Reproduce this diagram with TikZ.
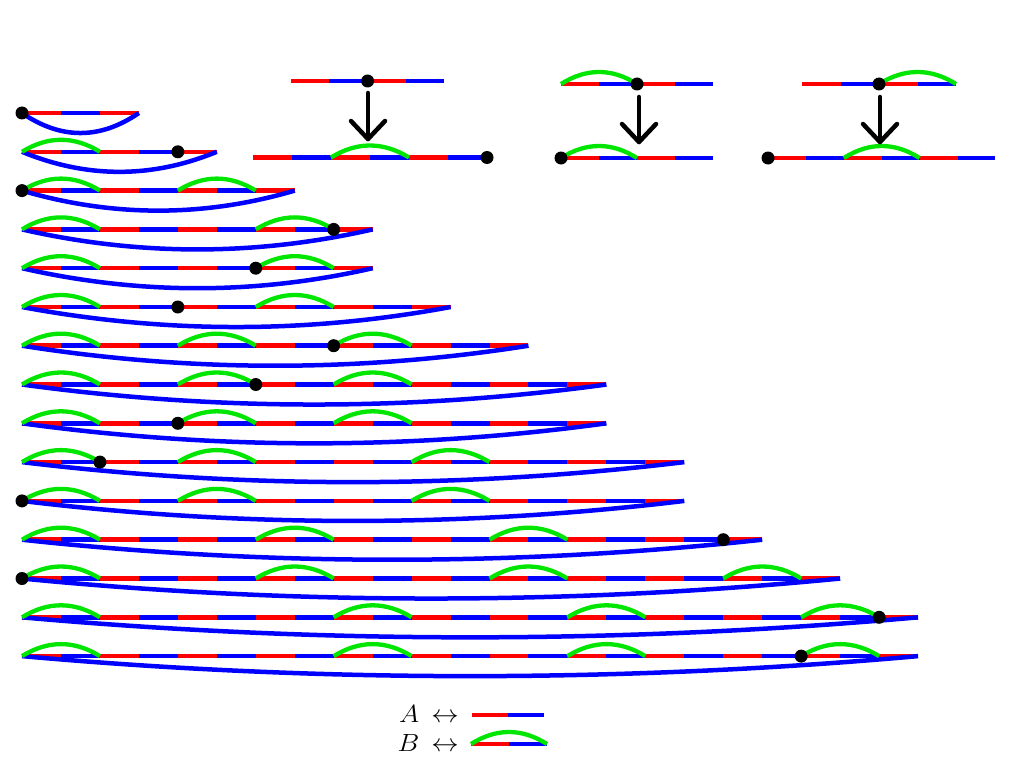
\documentclass[tikz,border=0pt]{standalone}
\usetikzlibrary{calc}
\definecolor{segred}{RGB}{255,0,0}
\definecolor{segblue}{RGB}{0,0,255}
\definecolor{arcgreen}{RGB}{0,230,0}
\tikzset{
  segA/.style={draw=segred,line width=4.5pt},
  segB/.style={draw=segblue,line width=4.5pt},
  greenarc/.style={draw=arcgreen,line width=4.3pt},
  loopcurve/.style={draw=segblue,line width=4.5pt},
  marker/.style={circle,fill=black,inner sep=0pt,minimum size=13pt},
  downarrow/.style={draw=black,line width=4.5pt,line cap=round,line join=round},
  legendtext/.style={inner sep=0pt,font=\fontsize{24.88}{30}\selectfont}
}
% x0, y, h, number of cells
\newcommand{\cellsrow}[4]{%
  \foreach \c in {1,...,#4}{
    \draw[segA] ({#1+(2*\c-2)*#3},#2) -- ({#1+(2*\c-1)*#3},#2);
    \draw[segB] ({#1+(2*\c-1)*#3},#2) -- ({#1+(2*\c)*#3},#2);
  }}
% x0, y, h, list of B cells
\newcommand{\barcs}[4]{%
  \foreach \b in {#4}{
    \draw[greenarc] ({#1+2*\b*#3},#2) .. controls +({2*#3/3},-16) and +({-2*#3/3},-16) .. ({#1+(2*\b+2)*#3},#2);
  }}
% name, y, n cells
\newcommand{\mainrow}[3]{%
  \cellsrow{22}{#2}{38.96}{#3}
  \draw[segA] ({22+2*#3*38.96},#2) -- ({22+(2*#3+1)*38.96},#2);
  \coordinate (#1s) at (22,#2);
  \coordinate (#1e) at ({22+(2*#3+1)*38.96},#2);
  \draw[loopcurve] (#1s) .. controls ($(#1s)!0.3333!(#1e)+(0,26.7)$) and ($(#1s)!0.6667!(#1e)+(0,26.7)$) .. (#1e);
}
% name, half index, y
\newcommand{\maindot}[3]{\node[marker] (#1d) at ({22+#2*38.96},#3) {};}
\begin{document}
\begin{tikzpicture}[x=1pt,y=-1pt]
\useasboundingbox (0,0) rectangle (1019,773);

% ---- main rows ----
\mainrow{r1}{113}{1}
\maindot{r1}{0}{113}

\mainrow{r2}{151.8}{2}
\barcs{22}{151.8}{38.96}{0}
\maindot{r2}{4}{151.8}

\mainrow{r3}{190.6}{3}
\barcs{22}{190.6}{38.96}{0,2}
\maindot{r3}{0}{190.6}

\mainrow{r4}{229.4}{4}
\barcs{22}{229.4}{38.96}{0,3}
\maindot{r4}{8}{229.4}

\mainrow{r5}{268.2}{4}
\barcs{22}{268.2}{38.96}{0,3}
\maindot{r5}{6}{268.2}

\mainrow{r6}{307.0}{5}
\barcs{22}{307.0}{38.96}{0,3}
\maindot{r6}{4}{307.0}

\mainrow{r7}{345.7}{6}
\barcs{22}{345.7}{38.96}{0,2,4}
\maindot{r7}{8}{345.7}

\mainrow{r8}{384.5}{7}
\barcs{22}{384.5}{38.96}{0,2,4}
\maindot{r8}{6}{384.5}

\mainrow{r9}{423.3}{7}
\barcs{22}{423.3}{38.96}{0,2,4}
\maindot{r9}{4}{423.3}

\mainrow{r10}{462.1}{8}
\barcs{22}{462.1}{38.96}{0,2,5}
\maindot{r10}{2}{462.1}

\mainrow{r11}{500.9}{8}
\barcs{22}{500.9}{38.96}{0,2,5}
\maindot{r11}{0}{500.9}

\mainrow{r12}{539.7}{9}
\barcs{22}{539.7}{38.96}{0,3,6}
\maindot{r12}{18}{539.7}

\mainrow{r13}{578.5}{10}
\barcs{22}{578.5}{38.96}{0,3,6,9}
\maindot{r13}{0}{578.5}

\mainrow{r14}{617.3}{11}
\barcs{22}{617.3}{38.96}{0,4,7,10}
\maindot{r14}{22}{617.3}

\mainrow{r15}{656.1}{11}
\barcs{22}{656.1}{38.96}{0,4,7,10}
\maindot{r15}{20}{656.1}

% ---- top transformations ----
% 1
\cellsrow{291}{81}{38.3}{2}
\node[marker] (t1a) at (367.6,81) {};
\cellsrow{253}{157.5}{39}{3}
\barcs{253}{157.5}{39}{1}
\node[marker] (t1b) at (487,157.5) {};
\coordinate (a1s) at (368,93);
\coordinate (a1e) at (368,139);
\draw[downarrow] (a1s) -- (a1e);
\draw[downarrow] ($(a1e)+(-17,-18)$) -- (a1e) -- ($(a1e)+(17,-18)$);
% 2
\cellsrow{561}{84}{38}{2}
\barcs{561}{84}{38}{0}
\node[marker] (t2a) at (637,84) {};
\cellsrow{561}{158}{38}{2}
\barcs{561}{158}{38}{0}
\node[marker] (t2b) at (561,158) {};
\coordinate (a2s) at (639,97);
\coordinate (a2e) at (639,142);
\draw[downarrow] (a2s) -- (a2e);
\draw[downarrow] ($(a2e)+(-17,-18)$) -- (a2e) -- ($(a2e)+(17,-18)$);
% 3
\cellsrow{802}{84}{38.5}{2}
\barcs{802}{84}{38.5}{1}
\node[marker] (t3a) at (879,84) {};
\cellsrow{768}{158}{37.9}{3}
\barcs{768}{158}{37.9}{1}
\node[marker] (t3b) at (768,158) {};
\coordinate (a3s) at (880,97);
\coordinate (a3e) at (880,142);
\draw[downarrow] (a3s) -- (a3e);
\draw[downarrow] ($(a3e)+(-17,-18)$) -- (a3e) -- ($(a3e)+(17,-18)$);

% ---- legend ----
\node[legendtext,anchor=base east] (la) at (459,722) {\scalebox{1.1}[1]{$A\,\leftrightarrow$}};
\cellsrow{472}{715}{36}{1}
\node[legendtext,anchor=base east] (lb) at (459,751) {\scalebox{1.1}[1]{$B\,\leftrightarrow$}};
\cellsrow{471}{744}{38}{1}
\barcs{471}{744}{38}{0}
\end{tikzpicture}
\end{document}
